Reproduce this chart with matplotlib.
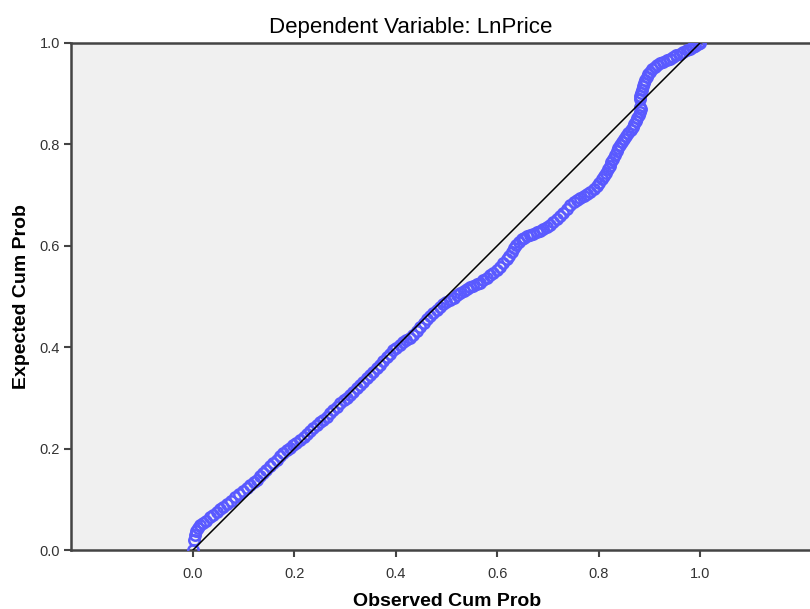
import matplotlib
matplotlib.use("Agg")
import matplotlib.pyplot as plt

plt.rcParams["font.family"] = ["Liberation Sans", "DejaVu Sans"]

# Observed vs expected cumulative probability
observed = [
    0.000, 0.002, 0.003, 0.006, 0.010, 0.014, 0.020, 0.026, 0.034, 0.040,
    0.047, 0.054, 0.060, 0.067, 0.075, 0.083, 0.090, 0.098, 0.106, 0.113,
    0.120, 0.126, 0.132, 0.139, 0.145, 0.152, 0.158, 0.165, 0.172, 0.178,
    0.185, 0.192, 0.198, 0.204, 0.211, 0.218, 0.224, 0.230, 0.237, 0.244,
    0.250, 0.257, 0.264, 0.270, 0.277, 0.284, 0.290, 0.297, 0.303, 0.310,
    0.316, 0.323, 0.330, 0.336, 0.343, 0.349, 0.356, 0.362, 0.369, 0.375,
    0.382, 0.388, 0.395, 0.401, 0.408, 0.415, 0.421, 0.428, 0.434, 0.441,
    0.448, 0.455, 0.461, 0.468, 0.474, 0.481, 0.487, 0.494, 0.500, 0.507,
    0.514, 0.520, 0.527, 0.534, 0.540, 0.547, 0.553, 0.560, 0.566, 0.573,
    0.579, 0.586, 0.592, 0.599, 0.605, 0.612, 0.619, 0.624, 0.629, 0.634,
    0.638, 0.643, 0.648, 0.653, 0.658, 0.664, 0.671, 0.678, 0.684, 0.691,
    0.698, 0.705, 0.711, 0.717, 0.723, 0.730, 0.737, 0.744, 0.751, 0.757,
    0.764, 0.771, 0.777, 0.784, 0.790, 0.796, 0.801, 0.806, 0.811, 0.815,
    0.819, 0.822, 0.825, 0.829, 0.832, 0.836, 0.839, 0.843, 0.847, 0.851,
    0.855, 0.859, 0.863, 0.867, 0.870, 0.873, 0.876, 0.879, 0.881, 0.883,
    0.882, 0.881, 0.882, 0.883, 0.885, 0.888, 0.890, 0.892, 0.895, 0.898,
    0.901, 0.906, 0.911, 0.916, 0.921, 0.927, 0.934, 0.940, 0.947, 0.953,
    0.960, 0.967, 0.974, 0.980, 0.986, 0.991, 0.996, 1.000,
]
expected = [
    0.000, 0.020, 0.030, 0.038, 0.044, 0.049, 0.054, 0.058, 0.066, 0.070,
    0.075, 0.080, 0.085, 0.090, 0.097, 0.105, 0.110, 0.116, 0.122, 0.128,
    0.134, 0.139, 0.145, 0.152, 0.158, 0.165, 0.171, 0.178, 0.185, 0.191,
    0.197, 0.202, 0.207, 0.212, 0.217, 0.223, 0.229, 0.234, 0.240, 0.246,
    0.252, 0.257, 0.263, 0.270, 0.277, 0.283, 0.289, 0.295, 0.300, 0.306,
    0.312, 0.319, 0.326, 0.332, 0.339, 0.346, 0.352, 0.358, 0.365, 0.372,
    0.380, 0.387, 0.394, 0.399, 0.404, 0.410, 0.414, 0.419, 0.425, 0.432,
    0.440, 0.448, 0.455, 0.462, 0.468, 0.474, 0.480, 0.485, 0.489, 0.493,
    0.497, 0.502, 0.506, 0.510, 0.514, 0.518, 0.521, 0.524, 0.527, 0.532,
    0.537, 0.542, 0.547, 0.553, 0.559, 0.566, 0.573, 0.580, 0.588, 0.596,
    0.602, 0.608, 0.613, 0.616, 0.619, 0.622, 0.624, 0.627, 0.630, 0.634,
    0.638, 0.642, 0.647, 0.652, 0.658, 0.665, 0.672, 0.680, 0.686, 0.690,
    0.695, 0.699, 0.703, 0.707, 0.712, 0.717, 0.724, 0.731, 0.738, 0.744,
    0.751, 0.758, 0.765, 0.772, 0.779, 0.786, 0.792, 0.798, 0.804, 0.810,
    0.816, 0.822, 0.828, 0.834, 0.840, 0.846, 0.852, 0.858, 0.864, 0.870,
    0.874, 0.889, 0.895, 0.901, 0.908, 0.915, 0.921, 0.927, 0.933, 0.938,
    0.943, 0.948, 0.953, 0.957, 0.960, 0.963, 0.966, 0.969, 0.973, 0.976,
    0.979, 0.982, 0.986, 0.989, 0.992, 0.995, 0.998, 1.000,
]

ticks = [0.0, 0.2, 0.4, 0.6, 0.8, 1.0]
tick_labels = ["0.0", "0.2", "0.4", "0.6", "0.8", "1.0"]

fig = plt.figure(figsize=(8.1, 6.09), dpi=100)
ax = fig.add_axes([71 / 810, 59 / 609, 739 / 810, 507 / 609])
ax.set_facecolor("#f0f0f0")

# Points
ax.plot(observed, expected, linestyle="none", marker="o", markersize=7.5,
        markerfacecolor="none", markeredgecolor="#5a5aff",
        markeredgewidth=1.8, zorder=3)

# Reference diagonal
ax.plot([0, 1], [0, 1], color="black", linewidth=1.1, zorder=4)

ax.set_xlim(-0.2406, 1.217)
ax.set_ylim(0, 1)
ax.set_xticks(ticks)
ax.set_xticklabels(tick_labels)
ax.set_yticks(ticks)
ax.set_yticklabels(tick_labels)

for side in ["left", "top", "bottom"]:
    ax.spines[side].set_color("#444444")
    ax.spines[side].set_linewidth(1.8)
ax.spines["right"].set_visible(False)

ax.tick_params(direction="out", length=5, width=1.5, color="#444444",
               labelsize=10.5, labelcolor="#333333")
ax.tick_params(axis="x", pad=7)
ax.tick_params(axis="y", pad=3)

# title sits a bit left of the axes centre in the original
ax.set_title("Dependent Variable: LnPrice", fontsize=16, pad=7, x=0.459)
ax.set_xlabel("Observed Cum Prob", fontsize=14, fontweight="bold",
              labelpad=9, x=0.509)
ax.set_ylabel("Expected Cum Prob", fontsize=14, fontweight="bold", labelpad=7)

fig.savefig("out.png", dpi=100)
